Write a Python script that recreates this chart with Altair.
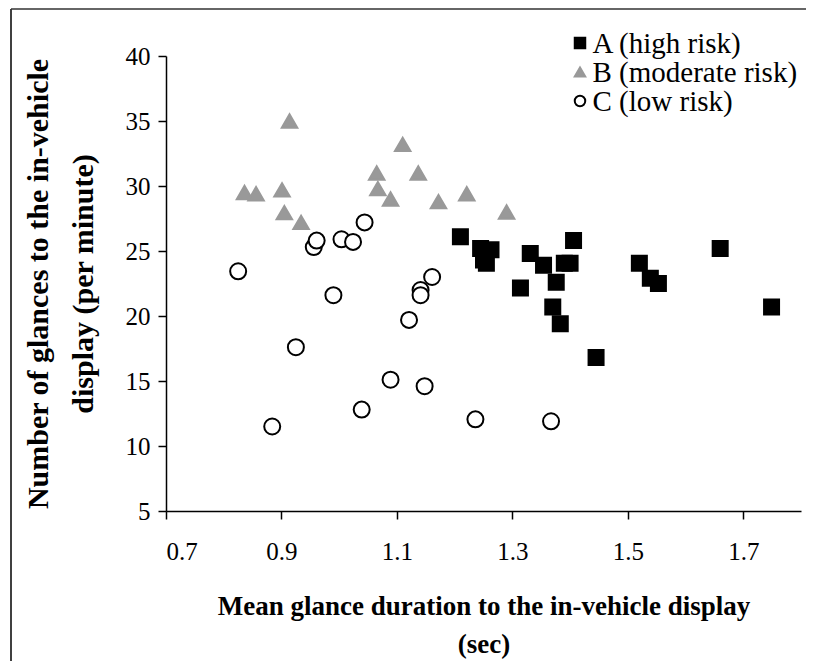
import altair as alt
import pandas as pd

# Group A (high risk) - squares
a_x = [1.210, 1.245, 1.263, 1.255, 1.250, 1.331, 1.354, 1.406, 1.390, 1.400, 1.376, 1.314,
       1.370, 1.383, 1.445, 1.520, 1.539, 1.553, 1.660, 1.749]
a_y = [26.1, 25.2, 25.1, 24.05, 24.3, 24.8, 23.9, 25.8, 24.05, 24.05, 22.6, 22.15,
       20.7, 19.4, 16.8, 24.05, 22.9, 22.5, 25.2, 20.7]

# Group B (moderate risk) - triangles
b_x = [0.836, 0.856, 0.901, 0.905, 0.914, 0.934, 1.065, 1.067, 1.089, 1.110, 1.137, 1.172, 1.221, 1.290]
b_y = [29.5, 29.4, 29.7, 27.95, 35.0, 27.2, 31.0, 29.8, 29.0, 33.2, 31.0, 28.8, 29.4, 28.0]

# Group C (low risk) - circles
c_x = [0.825, 0.884, 0.925, 0.956, 0.961, 0.990, 1.004, 1.024, 1.039, 1.044, 1.089, 1.121,
       1.141, 1.141, 1.148, 1.161, 1.236, 1.367]
c_y = [23.44, 11.5, 17.6, 25.3, 25.8, 21.6, 25.9, 25.7, 12.8, 27.2, 15.1, 19.7,
       22.0, 21.6, 14.6, 23.0, 12.05, 11.9]

groups = ["A (high risk)", "B (moderate risk)", "C (low risk)"]
x_ticks = [0.7, 0.9, 1.1, 1.3, 1.5, 1.7]
y_ticks = [5, 10, 15, 20, 25, 30, 35, 40]

rows = []
for g, xs, ys in [(groups[0], a_x, a_y), (groups[1], b_x, b_y), (groups[2], c_x, c_y)]:
    for xv, yv in zip(xs, ys):
        rows.append({"dur": xv, "num": yv, "group": g, "marker": g})
df = pd.DataFrame(rows)
legend_df = pd.DataFrame({"group": groups})

FONT = "Liberation Serif"
W, H = 635, 455

shape_enc = alt.Shape("group:N", legend=None,
                      scale=alt.Scale(domain=groups, range=["square", "triangle-up", "circle"]))
fill_enc = alt.Fill("group:N", legend=None,
                    scale=alt.Scale(domain=groups, range=["#000000", "#999999", "#ffffff"]))
stroke_enc = alt.Stroke("group:N", legend=None,
                        scale=alt.Scale(domain=groups, range=["#000000", "#999999", "#000000"]))

points = alt.Chart(df).mark_point(strokeWidth=2, opacity=1).encode(
    x=alt.X("dur:Q",
            scale=alt.Scale(domain=[0.7, 1.8], nice=False, zero=False),
            axis=alt.Axis(values=x_ticks, format=".1f",
                          title=["Mean glance duration to the in-vehicle display", "(sec)"],
                          titlePadding=29, labelPadding=20, titleLineHeight=38,
                          titleFontSize=27)),
    y=alt.Y("num:Q",
            scale=alt.Scale(domain=[5, 40], nice=False, zero=False),
            axis=alt.Axis(values=y_ticks,
                          title=["Number of glances to the in-vehicle", "display (per minute)"],
                          titlePadding=27, labelPadding=8, titleLineHeight=45,
                          titleFontSize=30)),
    shape=shape_enc, fill=fill_enc, stroke=stroke_enc,
    size=alt.Size("marker:N", scale=alt.Scale(domain=groups, range=[225, 256, 110]), legend=None),
)

# legend: symbols as marks, labels through a right-hand category axis moved into place
leg_y = alt.Y("group:N",
              scale=alt.Scale(type="point", domain=groups, range=[-13, 45], padding=0),
              axis=alt.Axis(orient="right", offset=421 - W, title=None, domain=False,
                            ticks=False, grid=False, labelPadding=5, labelAlign="left",
                            labelBaseline="middle", labelFontSize=29, labelFont=FONT,
                            labelColor="#000000", labelLimit=400))
leg_sym = alt.Chart(legend_df).mark_point(strokeWidth=2, opacity=1, size=110).encode(
    x=alt.value(414), y=leg_y, shape=shape_enc, fill=fill_enc, stroke=stroke_enc)

frame_left = alt.Chart(alt.Data(values=[{"k": 1}])).mark_rule(color="#000000", strokeWidth=1.5).encode(
    x=alt.value(-155), y=alt.value(-47), y2=alt.value(H + 160))
frame_top = alt.Chart(alt.Data(values=[{"k": 1}])).mark_rule(color="#333333", strokeWidth=1.5).encode(
    x=alt.value(-155), x2=alt.value(W + 5), y=alt.value(-47))

chart = alt.layer(frame_left, frame_top, points, leg_sym).resolve_scale(
    y="independent"
).properties(
    width=W, height=H,
    autosize=alt.AutoSizeParams(type="none"),
    padding={"left": 158, "top": 48, "right": 5, "bottom": 150},
).configure_view(stroke=None).configure_axis(
    grid=False,
    domainColor="#000000", domainWidth=1.5,
    tickColor="#000000", tickWidth=1.5, tickSize=8,
    labelFont=FONT, labelFontSize=25, labelColor="#000000",
    titleFont=FONT, titleFontWeight="bold", titleColor="#000000",
)

chart.save("out.html", embed_options={"renderer": "svg", "actions": False})
